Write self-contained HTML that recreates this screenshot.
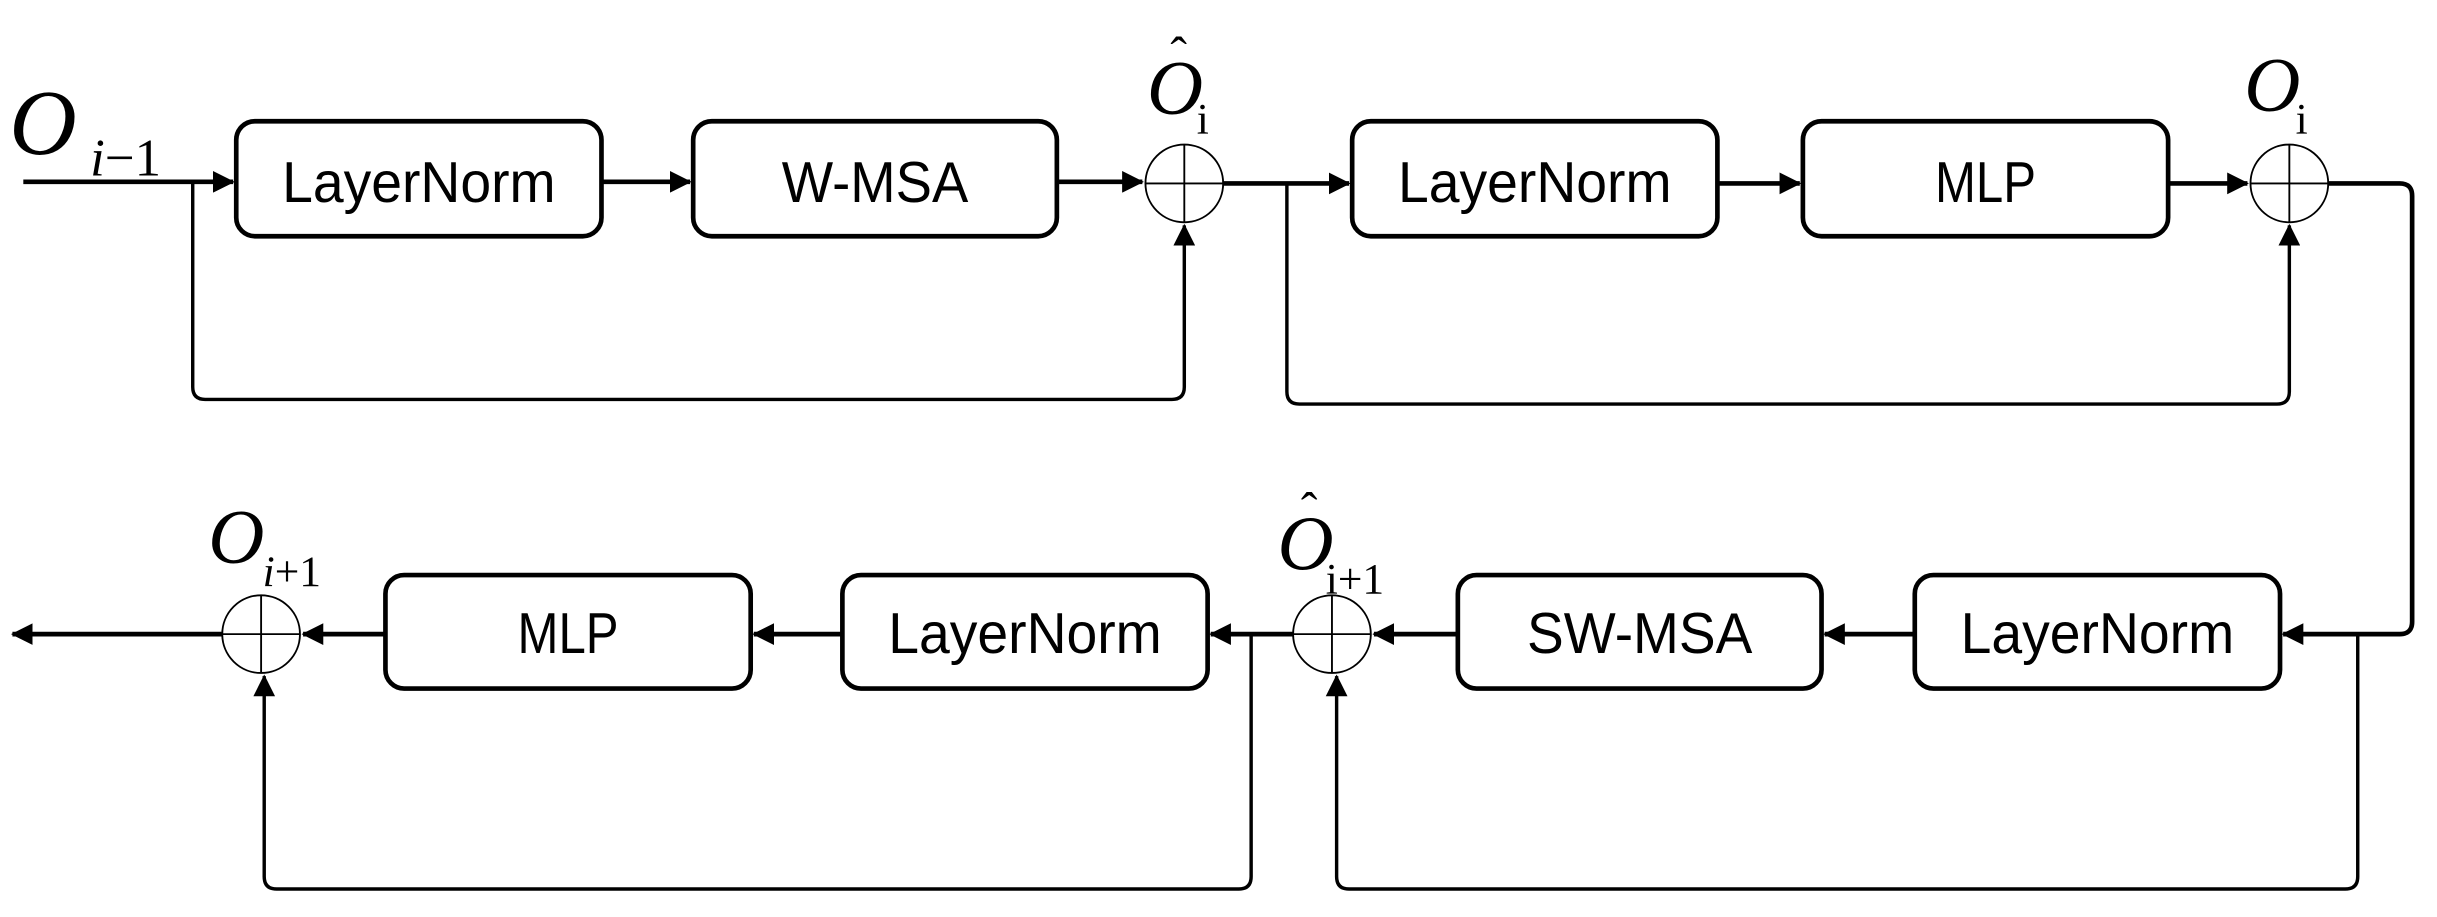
<!DOCTYPE html>
<html><head><meta charset="utf-8"><style>
html,body{margin:0;padding:0;background:#fff;}
svg{display:block;}
.bt{font-family:"Liberation Sans Narrow","Liberation Sans",sans-serif;font-size:37px;text-anchor:middle;}
.m{font-family:"Liberation Serif",serif;}
</style></head><body>
<svg width="2437" height="917" viewBox="0 0 1568 590" xmlns="http://www.w3.org/2000/svg">
<defs>
<marker id="b" markerWidth="14" markerHeight="14" refX="13" refY="7" orient="auto" markerUnits="userSpaceOnUse">
<path d="M0,0 L14,7 L0,14 z" fill="#000"/></marker>
</defs>
<g fill="none" stroke="#000">
<g stroke-width="3">
<rect x="152" y="78" width="235" height="74" rx="12"/>
<rect x="446" y="78" width="234" height="74" rx="12"/>
<rect x="870" y="78" width="235" height="74" rx="12"/>
<rect x="1160" y="78" width="235" height="74" rx="12"/>
<rect x="1232" y="370" width="235" height="73" rx="12"/>
<rect x="938" y="370" width="234" height="73" rx="12"/>
<rect x="542" y="370" width="235" height="73" rx="12"/>
<rect x="248" y="370" width="235" height="73" rx="12"/>
</g>
<g stroke-width="1.2">
<circle cx="762" cy="118" r="25"/><path d="M737 118H787M762 93V143"/>
<circle cx="1473" cy="118" r="25"/><path d="M1448 118H1498M1473 93V143"/>
<circle cx="857" cy="408" r="25"/><path d="M832 408H882M857 383V433"/>
<circle cx="168" cy="408" r="25"/><path d="M143 408H193M168 383V433"/>
</g>
<g stroke-width="3">
<path d="M15 117H150" marker-end="url(#b)"/>
<path d="M387 117H444" marker-end="url(#b)"/>
<path d="M680 117H735" marker-end="url(#b)"/>
<path d="M787 118H868" marker-end="url(#b)"/>
<path d="M1105 118H1158" marker-end="url(#b)"/>
<path d="M1395 118H1446" marker-end="url(#b)"/>
<path d="M1498 118H1544Q1552 118 1552 126V400Q1552 408 1544 408H1469" marker-end="url(#b)"/>
<path d="M1232 408H1174" marker-end="url(#b)"/>
<path d="M938 408H884" marker-end="url(#b)"/>
<path d="M832 408H779" marker-end="url(#b)"/>
<path d="M542 408H485" marker-end="url(#b)"/>
<path d="M248 408H195" marker-end="url(#b)"/>
<path d="M143 408H8" marker-end="url(#b)"/>
</g>
<g stroke-width="2.2">
<path d="M124 117V249Q124 257 132 257H754Q762 257 762 249V145" marker-end="url(#b)"/>
<path d="M828 118V252Q828 260 836 260H1465Q1473 260 1473 252V145" marker-end="url(#b)"/>
<path d="M1517 408V564Q1517 572 1509 572H868Q860 572 860 564V435" marker-end="url(#b)"/>
<path d="M805 408V564Q805 572 797 572H178Q170 572 170 564V435" marker-end="url(#b)"/>
</g>
</g>
<g fill="#000">
<text class="bt" x="269.5" y="130" textLength="176" lengthAdjust="spacingAndGlyphs">LayerNorm</text>
<text class="bt" x="563" y="130" textLength="120" lengthAdjust="spacingAndGlyphs">W-MSA</text>
<text class="bt" x="987.5" y="130" textLength="176" lengthAdjust="spacingAndGlyphs">LayerNorm</text>
<text class="bt" x="1277.5" y="130" textLength="65" lengthAdjust="spacingAndGlyphs">MLP</text>
<text class="bt" x="1349.5" y="420" textLength="176" lengthAdjust="spacingAndGlyphs">LayerNorm</text>
<text class="bt" x="1055" y="420" textLength="145" lengthAdjust="spacingAndGlyphs">SW-MSA</text>
<text class="bt" x="659.5" y="420" textLength="176" lengthAdjust="spacingAndGlyphs">LayerNorm</text>
<text class="bt" x="365.5" y="420" textLength="65" lengthAdjust="spacingAndGlyphs">MLP</text>
<text class="m" x="6" y="99" font-size="60" font-style="italic">O</text>
<text class="m" x="58" y="113" font-size="34"><tspan font-style="italic">i</tspan>−1</text>
<text class="m" x="738" y="73" font-size="50" font-style="italic">O</text>
<text class="m" x="753" y="46" font-size="32">ˆ</text>
<text class="m" x="770" y="86" font-size="28">i</text>
<text class="m" x="1444" y="71" font-size="50" font-style="italic">O</text>
<text class="m" x="1477" y="86" font-size="28">i</text>
<text class="m" x="822" y="366" font-size="50" font-style="italic">O</text>
<text class="m" x="837" y="339" font-size="32">ˆ</text>
<text class="m" x="853" y="382" font-size="28">i+1</text>
<text class="m" x="134" y="362" font-size="50" font-style="italic">O</text>
<text class="m" x="169" y="377" font-size="28"><tspan font-style="italic">i</tspan>+1</text>
</g>
</svg>
</body></html>
